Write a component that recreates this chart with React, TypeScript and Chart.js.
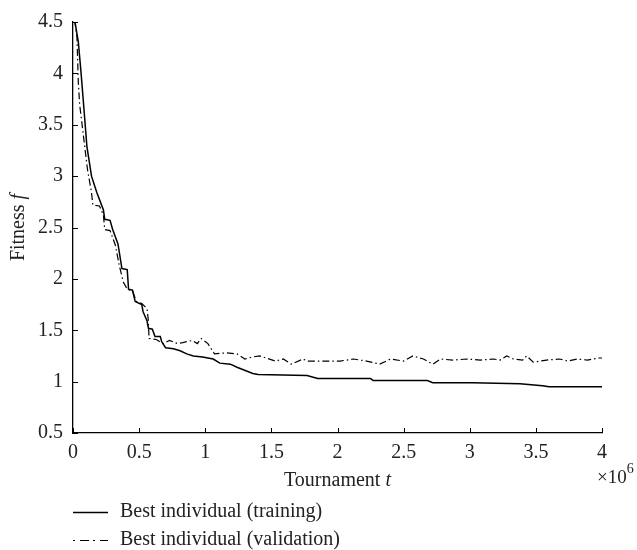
import React, { useEffect, useRef } from "react";
import { Chart, registerables } from "chart.js";

Chart.register(...registerables);

const xTicks = [0, 0.5, 1, 1.5, 2, 2.5, 3, 3.5, 4];
const yTicks = [0.5, 1, 1.5, 2, 2.5, 3, 3.5, 4, 4.5];

const trainX = [0, 0.015, 0.04, 0.06, 0.08, 0.105, 0.14, 0.18, 0.23, 0.24, 0.28, 0.3, 0.34, 0.37, 0.41, 0.42, 0.45, 0.47, 0.52, 0.53, 0.56, 0.57, 0.6, 0.62, 0.66, 0.67, 0.7, 0.76, 0.81, 0.86, 0.91, 0.98, 1.06, 1.11, 1.19, 1.24, 1.36, 1.4, 1.77, 1.85, 2.25, 2.27, 2.68, 2.72, 3.02, 3.38, 3.55, 3.6, 4.0];
const trainY = [4.5, 4.5, 4.31, 4.02, 3.7, 3.29, 3.0, 2.84, 2.67, 2.58, 2.57, 2.48, 2.34, 2.1, 2.09, 1.9, 1.89, 1.78, 1.75, 1.68, 1.59, 1.52, 1.51, 1.44, 1.44, 1.39, 1.33, 1.32, 1.3, 1.27, 1.25, 1.24, 1.22, 1.18, 1.17, 1.14, 1.08, 1.07, 1.06, 1.03, 1.03, 1.01, 1.01, 0.99, 0.99, 0.98, 0.96, 0.95, 0.95];

const valX = [0, 0.015, 0.03, 0.04, 0.05, 0.08, 0.11, 0.14, 0.15, 0.2, 0.23, 0.24, 0.28, 0.32, 0.35, 0.38, 0.41, 0.45, 0.48, 0.52, 0.56, 0.57, 0.575, 0.63, 0.68, 0.73, 0.79, 0.83, 0.9, 0.94, 0.97, 1.02, 1.07, 1.16, 1.24, 1.3, 1.36, 1.41, 1.46, 1.53, 1.59, 1.65, 1.74, 1.77, 1.89, 2.02, 2.12, 2.22, 2.32, 2.4, 2.5, 2.57, 2.65, 2.72, 2.78, 2.87, 2.98, 3.08, 3.18, 3.23, 3.28, 3.33, 3.4, 3.43, 3.48, 3.58, 3.68, 3.74, 3.81, 3.89, 3.98, 4.0];
const valY = [4.5, 4.5, 4.35, 3.92, 3.7, 3.38, 3.06, 2.84, 2.72, 2.71, 2.62, 2.48, 2.47, 2.33, 2.13, 1.97, 1.9, 1.88, 1.78, 1.76, 1.71, 1.59, 1.42, 1.41, 1.37, 1.4, 1.37, 1.38, 1.4, 1.37, 1.42, 1.37, 1.27, 1.28, 1.27, 1.22, 1.24, 1.25, 1.23, 1.2, 1.22, 1.17, 1.22, 1.2, 1.2, 1.2, 1.22, 1.2, 1.17, 1.22, 1.2, 1.25, 1.22, 1.17, 1.22, 1.21, 1.22, 1.21, 1.22, 1.21, 1.25, 1.22, 1.21, 1.25, 1.19, 1.21, 1.22, 1.2, 1.22, 1.21, 1.23, 1.23];

const seriesLabels = ["Best individual (training)", "Best individual (validation)"];
const xTitle = ["Tournament ", "t"];
const yTitle = ["Fitness ", "f"];
const xExponent = ["\u00d710", "6"];

const FONT = '"Liberation Serif", "Times New Roman", serif';
const FS = 20;
const TEXT = "#222";
const VAL_DASH = [7, 3, 1.5, 3];

const decor = {
  id: "decor",
  afterDraw(chart: any) {
    const ctx = chart.ctx as CanvasRenderingContext2D;
    const xs = chart.scales.x;
    const ys = chart.scales.y;
    const area = chart.chartArea;
    ctx.save();
    ctx.strokeStyle = "#000";
    ctx.lineWidth = 1;
    xTicks.forEach((v) => {
      const p = Math.round(xs.getPixelForValue(v)) + 0.5;
      ctx.beginPath();
      ctx.moveTo(p, area.bottom);
      ctx.lineTo(p, area.bottom - 5);
      ctx.stroke();
    });
    yTicks.forEach((v) => {
      const p = Math.round(ys.getPixelForValue(v)) + 0.5;
      ctx.beginPath();
      ctx.moveTo(area.left, p);
      ctx.lineTo(area.left + 5, p);
      ctx.stroke();
    });

    const normal = `${FS}px ${FONT}`;
    const italic = `italic ${FS}px ${FONT}`;
    ctx.fillStyle = TEXT;
    ctx.textBaseline = "middle";
    ctx.textAlign = "left";

    // x title
    ctx.font = normal;
    const w1 = ctx.measureText(xTitle[0]).width;
    ctx.font = italic;
    const w2 = ctx.measureText(xTitle[1]).width;
    const cx = (area.left + area.right) / 2;
    const sx = cx - (w1 + w2) / 2;
    ctx.font = normal;
    ctx.fillText(xTitle[0], sx, 481);
    ctx.font = italic;
    ctx.fillText(xTitle[1], sx + w1, 481);

    // y title
    ctx.save();
    ctx.translate(19, (area.top + area.bottom) / 2);
    ctx.rotate(-Math.PI / 2);
    ctx.font = normal;
    const v1 = ctx.measureText(yTitle[0]).width;
    ctx.font = italic;
    const v2 = ctx.measureText(yTitle[1]).width;
    ctx.font = normal;
    ctx.fillText(yTitle[0], -(v1 + v2) / 2, 0);
    ctx.font = italic;
    ctx.fillText(yTitle[1], -(v1 + v2) / 2 + v1, 0);
    ctx.restore();

    // exponent
    ctx.font = `19px ${FONT}`;
    const ew = ctx.measureText(xExponent[0]).width;
    ctx.fillText(xExponent[0], 597, 478);
    ctx.font = `14px ${FONT}`;
    ctx.fillText(xExponent[1], 597 + ew, 469);

    // legend
    const ly = [512, 540];
    ctx.strokeStyle = "#000";
    ctx.lineWidth = 1.4;
    ctx.beginPath();
    ctx.moveTo(73, ly[0] + 0.5);
    ctx.lineTo(108, ly[0] + 0.5);
    ctx.stroke();
    ctx.lineWidth = 1.2;
    ctx.setLineDash([2, 5, 9, 4]);
    ctx.beginPath();
    ctx.moveTo(73, ly[1] + 0.5);
    ctx.lineTo(108, ly[1] + 0.5);
    ctx.stroke();
    ctx.setLineDash([]);
    ctx.font = normal;
    ctx.fillStyle = TEXT;
    ctx.fillText(seriesLabels[0], 120, ly[0]);
    ctx.fillText(seriesLabels[1], 120, ly[1]);
    ctx.restore();
  },
};

export default function App() {
  const ref = useRef<HTMLCanvasElement | null>(null);
  useEffect(() => {
    if (!ref.current) return;
    const tickFont = { family: FONT, size: FS };
    const chart = new Chart(ref.current, {
      type: "line",
      data: {
        datasets: [
          {
            label: seriesLabels[0],
            data: trainX.map((x, i) => ({ x, y: trainY[i] })),
            borderColor: "#000",
            borderWidth: 1.5,
            pointRadius: 0,
            fill: false,
            tension: 0,
          },
          {
            label: seriesLabels[1],
            data: valX.map((x, i) => ({ x, y: valY[i] })),
            borderColor: "#000",
            borderWidth: 1.2,
            borderDash: VAL_DASH,
            pointRadius: 0,
            fill: false,
            tension: 0,
          },
        ],
      },
      options: {
        responsive: false,
        animation: false,
        layout: { padding: { left: 0, top: 17, right: 35, bottom: 0 } },
        plugins: { legend: { display: false }, tooltip: { enabled: false } },
        scales: {
          x: {
            type: "linear",
            min: 0,
            max: 4,
            grid: { display: false, drawTicks: false },
            border: { display: true, color: "#000", width: 1.3 },
            ticks: { font: tickFont, color: TEXT, padding: 8, maxRotation: 0, callback: (v: any) => String(v) },
            afterBuildTicks: (s: any) => { s.ticks = xTicks.map((value) => ({ value })); },
            afterFit: (s: any) => { s.height = 117; },
          },
          y: {
            type: "linear",
            min: 0.5,
            max: 4.5,
            grid: { display: false, drawTicks: false },
            border: { display: true, color: "#000", width: 1.3 },
            ticks: { font: tickFont, color: TEXT, padding: 10, callback: (v: any) => String(v) },
            afterBuildTicks: (s: any) => { s.ticks = yTicks.map((value) => ({ value })); },
            afterFit: (s: any) => { s.width = 73; },
          },
        },
      },
      plugins: [decor],
    } as any);
    return () => chart.destroy();
  }, []);
  return (
    <div style={{ position: "fixed", left: 0, top: 0, width: 637, height: 550, background: "#fff" }}>
      <canvas ref={ref} width={637} height={550} />
    </div>
  );
}
